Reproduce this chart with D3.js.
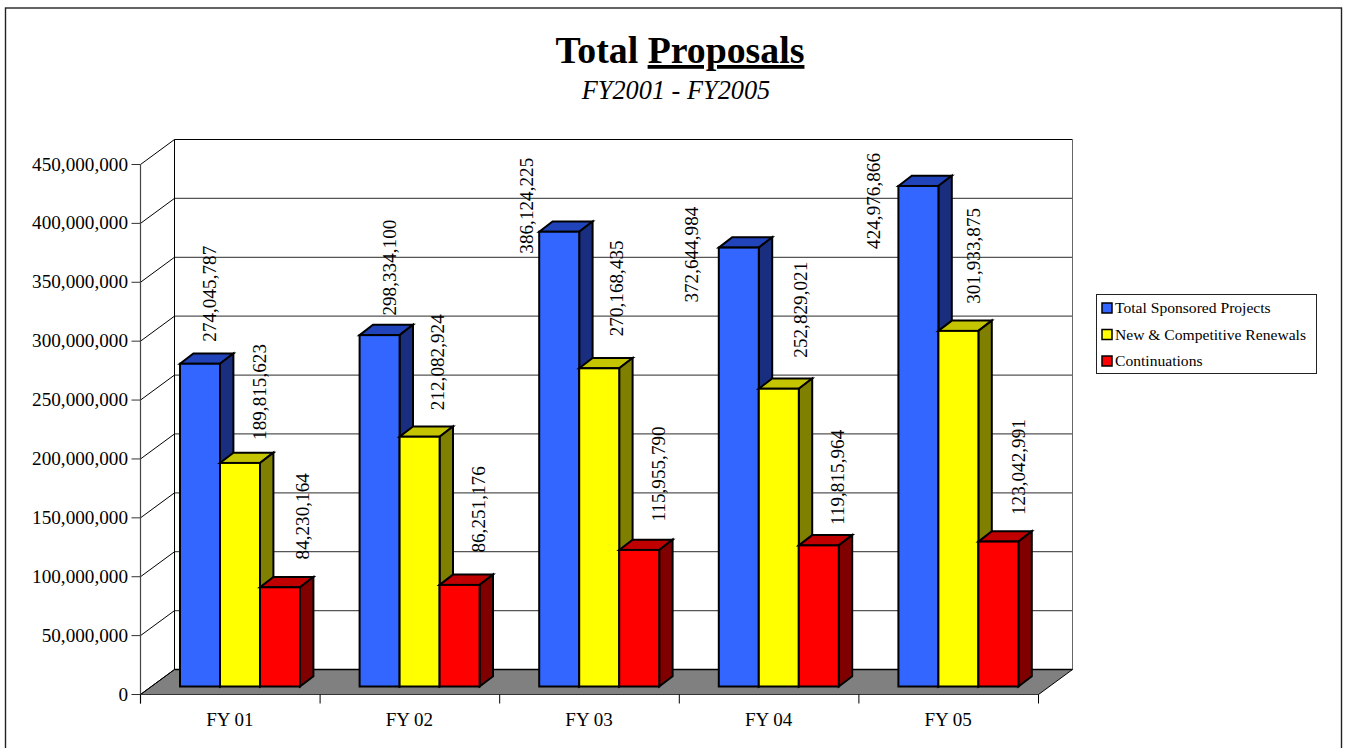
<!DOCTYPE html>
<html><head><meta charset="utf-8">
<script src="https://cdn.jsdelivr.net/npm/d3@7"></script>
<style>html,body{margin:0;padding:0;background:#fff}svg{display:block}text{font-family:"Liberation Serif",serif;fill:#000}</style>
</head><body><svg id="c" width="1351" height="748"></svg>
<script>
const categories=["FY 01","FY 02","FY 03","FY 04","FY 05"];
const seriesNames=["Total Sponsored Projects","New & Competitive Renewals","Continuations"];
const totalSponsored=[274045787,298334100,386124225,372644984,424976866];
const newCompetitive=[189815623,212082924,270168435,252829021,301933875];
const continuations=[84230164,86251176,115955790,119815964,123042991];
const yTicks=[0,50000000,100000000,150000000,200000000,250000000,300000000,350000000,400000000,450000000];
const seriesValues=[totalSponsored,newCompetitive,continuations];
const faceColors=[["#3366ff","#2244bb","#1a2e80"],["#ffff00","#c4c400","#808000"],["#ff0000","#c00000","#800000"]];

const svg=d3.select("#c");
const fmt=d3.format(",");
svg.append("rect").attr("x",5.5).attr("y",8).attr("width",1336).attr("height",760).attr("fill","#fff").attr("stroke","#222").attr("stroke-width",1.4);
svg.append("text").attr("x",680).attr("y",63).attr("text-anchor","middle").attr("font-size",37.8).attr("font-weight","bold")
  .call(t=>{t.append("tspan").text("Total ");t.append("tspan").attr("text-decoration","underline").text("Proposals");});
svg.append("text").attr("x",676).attr("y",98.7).attr("text-anchor","middle").attr("font-size",26.3).attr("font-style","italic").text("FY2001 - FY2005");

const x0=d3.scaleBand().domain(categories).range([140.5,1038.5]);
const y=d3.scaleLinear().domain([0,450000000]).range([694.5,164.5]);
const wallDx=34,wallDy=-25;
const barInset=39.5,barW=40,barDx=13.4,barDy=-10.3,barBaseDy=-8;
// walls
const g=svg.append("g");
g.append("path").attr("d",`M${x0.range()[0]},${y(0)}L${x0.range()[1]},${y(0)}l${wallDx},${wallDy}L${x0.range()[0]+wallDx},${y(0)+wallDy}Z`).attr("fill","#808080").attr("stroke","#000").attr("stroke-width",1);
yTicks.forEach(t=>{
  if(t>0){
    g.append("line").attr("x1",x0.range()[0]+wallDx).attr("x2",x0.range()[1]+wallDx).attr("y1",y(t)+wallDy).attr("y2",y(t)+wallDy).attr("stroke",t===450000000?"#000":"#555").attr("stroke-width",t===450000000?1:1.3);
  }
  g.append("line").attr("x1",x0.range()[0]).attr("x2",x0.range()[0]+wallDx).attr("y1",y(t)).attr("y2",y(t)+wallDy).attr("stroke","#000");
  g.append("line").attr("x1",x0.range()[0]-9).attr("x2",x0.range()[0]).attr("y1",y(t)).attr("y2",y(t)).attr("stroke","#333");
  g.append("text").attr("x",128).attr("y",y(t)+6).attr("text-anchor","end").attr("font-size",19.2).text(fmt(t));
});
g.append("line").attr("x1",x0.range()[0]+wallDx).attr("x2",x0.range()[0]+wallDx).attr("y1",y(0)+wallDy).attr("y2",y(450000000)+wallDy).attr("stroke","#000");
g.append("line").attr("x1",x0.range()[1]+wallDx).attr("x2",x0.range()[1]+wallDx).attr("y1",y(0)+wallDy).attr("y2",y(450000000)+wallDy).attr("stroke","#666");
g.append("line").attr("x1",x0.range()[0]+wallDx).attr("x2",x0.range()[1]+wallDx).attr("y1",y(0)+wallDy).attr("y2",y(0)+wallDy).attr("stroke","#000").attr("stroke-width",1.5);
g.append("line").attr("x1",x0.range()[0]).attr("x2",x0.range()[0]).attr("y1",y(450000000)).attr("y2",y(0)+9).attr("stroke","#444").attr("stroke-width",1.2);
g.append("line").attr("x1",x0.range()[0]).attr("x2",x0.range()[1]).attr("y1",y(0)).attr("y2",y(0)).attr("stroke","#333");
d3.range(categories.length+1).forEach(i=>{
  const xx=x0.range()[0]+i*x0.step();
  g.append("line").attr("x1",xx).attr("x2",xx).attr("y1",y(0)).attr("y2",y(0)+9).attr("stroke","#000");
});
categories.forEach(c=>{
  g.append("text").attr("x",x0(c)+x0.bandwidth()/2-0.5).attr("y",726).attr("text-anchor","middle").attr("font-size",19).text(c);
});
// bars
const bars=svg.append("g").attr("stroke","#000").attr("stroke-width",2).attr("stroke-linejoin","miter");
categories.forEach((c,ci)=>{
  seriesValues.forEach((vals,si)=>{
    const xl=x0(c)+barInset+si*barW;
    const yb=y(0)+barBaseDy;
    const yt=yb-(y(0)-y(vals[ci]));
    const col=faceColors[si];
    bars.append("path").attr("fill",col[1]).attr("d",`M${xl},${yt}l${barDx},${barDy}h${barW}l${-barDx},${-barDy}Z`);
    bars.append("path").attr("fill",col[2]).attr("d",`M${xl+barW},${yt}l${barDx},${barDy}V${yb+barDy}l${-barDx},${-barDy}Z`);
    bars.append("rect").attr("fill",col[0]).attr("x",xl).attr("y",yt).attr("width",barW).attr("height",yb-yt);
  });
});
// data labels
const labelNudge=[[[30,1],[30,3.5],[-12,45],[-27,78],[-24,86]],[[40,0],[38,-3.5],[38,-9],[42,-8],[35.5,-4]],[[43,0],[39,-4.5],[40,-5],[39,3],[41,-3.5]]];
const labels=svg.append("g");
categories.forEach((c,ci)=>{
  seriesValues.forEach((vals,si)=>{
    const xl=x0(c)+barInset+si*barW;
    const yt=y(0)+barBaseDy-(y(0)-y(vals[ci]));
    const [dx,dy]=labelNudge[si][ci];
    labels.append("text").attr("transform",`translate(${xl+dx+6},${yt-71+dy}) rotate(-90)`).attr("text-anchor","middle").attr("font-size",19.2).text(fmt(vals[ci]));
  });
});
// legend
const lg=svg.append("g");
lg.append("rect").attr("x",1096.5).attr("y",294.5).attr("width",220).attr("height",79).attr("fill","#fff").attr("stroke","#222");
seriesNames.forEach((n,i)=>{
  const yy=308+i*26.5;
  lg.append("rect").attr("x",1102).attr("y",yy-5).attr("width",10).attr("height",10).attr("fill",faceColors[i][0]).attr("stroke","#000").attr("stroke-width",1.5);
  lg.append("text").attr("x",1115).attr("y",yy+5).attr("font-size",15.6).text(n);
});
</script></body></html>
